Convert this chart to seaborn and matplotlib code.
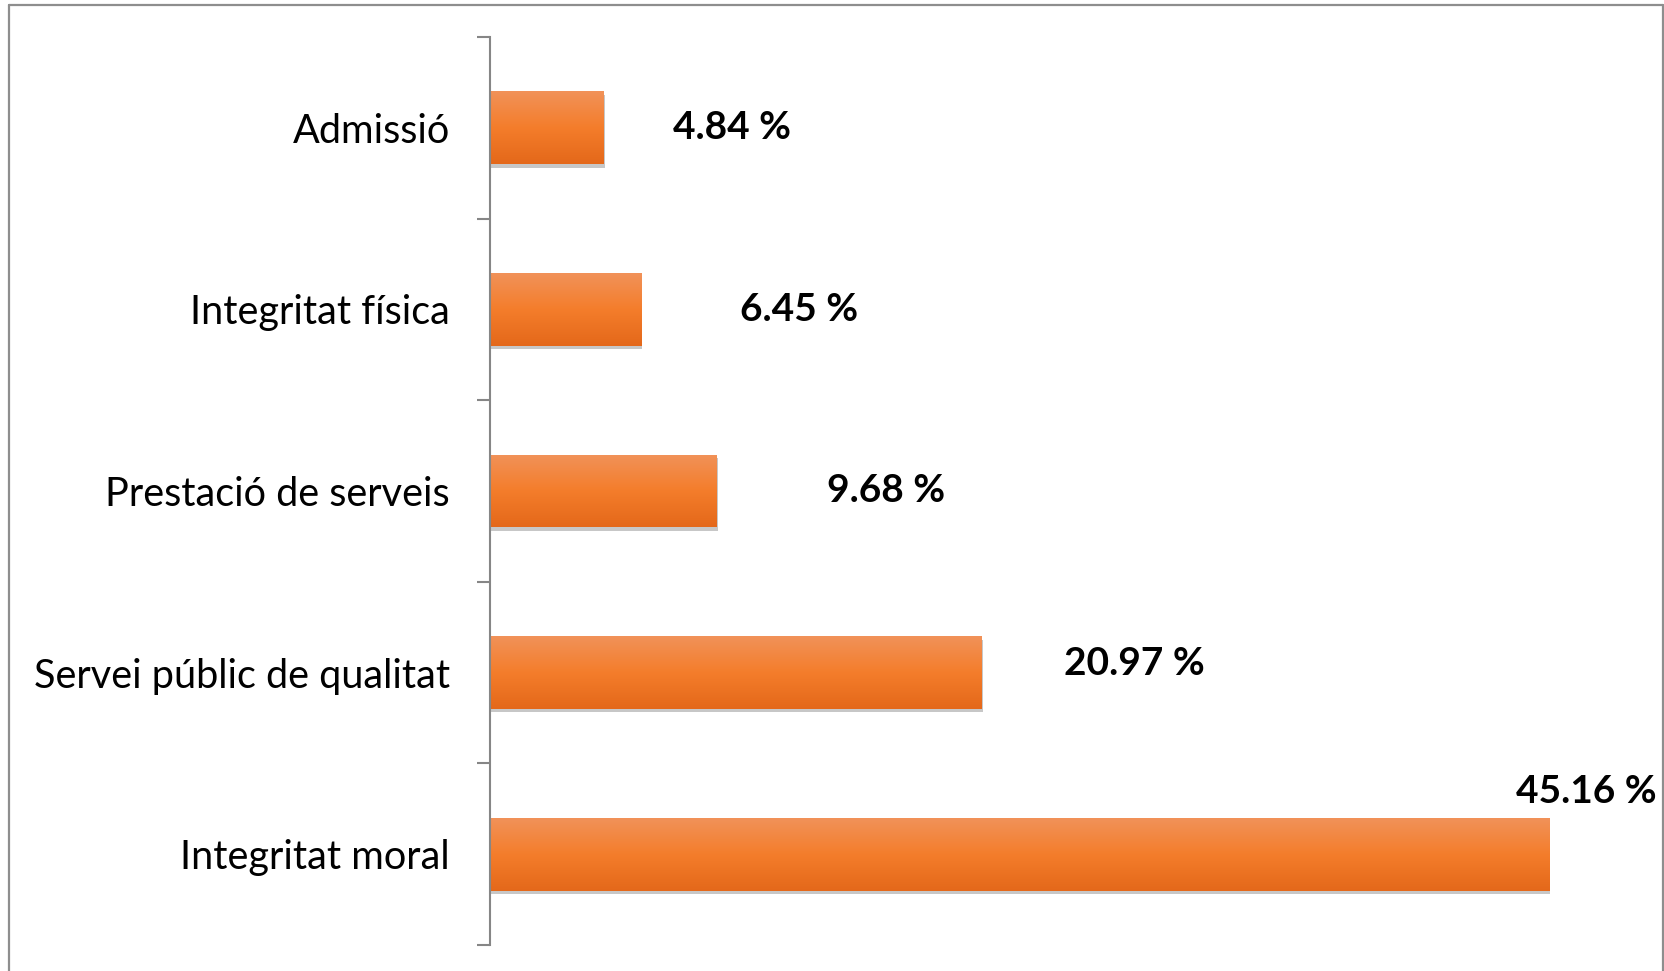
# %% Import packages

import numpy as np
import pandas as pd
import seaborn as sns
import matplotlib.pyplot as plt
import matplotlib.patheffects as pe
from matplotlib.colors import LinearSegmentedColormap
from matplotlib.lines import Line2D

# %% Data

categories = ['Admissió', 'Integritat física', 'Prestació de serveis',
              'Servei públic de qualitat', 'Integritat moral']
percentages = [4.84, 6.45, 9.68, 20.97, 45.16]
value_labels = ['4.84 %', '6.45 %', '9.68 %', '20.97 %', '45.16 %']

# label offsets from the bar end, in pixels (Excel-style placement)
label_dx = [70, 99, 110, 82, -33]
label_dy = [0, 0, 0, 9, 63]

# %% Figure aesthetics

sns.set_theme(style='white')
plt.rcParams['font.family'] = ['Lato', 'DejaVu Sans']

DPI = 100
fig = plt.figure(figsize=(16.65, 9.71), dpi=DPI)
ax = fig.add_axes([490 / 1665, 1 - 945 / 971, (1640 - 490) / 1665, (945 - 37) / 971])

df = pd.DataFrame({'category': categories, 'value': percentages})

# %% Bars

sns.barplot(data=df, x='value', y='category', orient='h', color='#F47D2B',
            width=0.4, ax=ax, saturation=1)

grad_cmap = LinearSegmentedColormap.from_list(
    'bar_grad', ['#F19259', '#F47D2B', '#E4681A'])
grad = np.linspace(0, 1, 256).reshape(-1, 1)

for patch in ax.patches:
    patch.set_edgecolor('none')
    patch.set_path_effects([pe.SimplePatchShadow(offset=(0.8, -2.5), shadow_rgbFace='#000000', alpha=0.22),
                            pe.Normal()])
    x0, y0 = patch.get_x(), patch.get_y()
    w, h = patch.get_width(), patch.get_height()
    im = ax.imshow(grad, extent=[x0, x0 + w, y0 + h, y0], aspect='auto',
                   cmap=grad_cmap, zorder=patch.get_zorder() + 0.1)
    im.set_clip_path(patch)

ax.set_xlim(0, (1640 - 490) / 23.45)
ax.set_ylim(len(categories) - 0.5, -0.5)
ax.set_aspect('auto')

# %% Labels

for i, (val, lab) in enumerate(zip(percentages, value_labels)):
    ax.annotate(lab, xy=(val, i), xytext=(label_dx[i] * 72 / DPI, label_dy[i] * 72 / DPI),
                textcoords='offset points', ha='left', va='center',
                fontsize=28, fontweight='bold', color='black')

# %% Axis styling

for side in ['top', 'right', 'bottom']:
    ax.spines[side].set_visible(False)
ax.spines['left'].set_color('#868686')
ax.spines['left'].set_linewidth(1.5)

ax.set_xlabel('')
ax.set_ylabel('')
ax.set_xticks([])
ax.tick_params(axis='y', which='major', left=False, length=0, pad=29,
               labelsize=28.5, labelcolor='black')
ax.set_yticks(np.arange(-0.5, len(categories), 1), minor=True)
ax.tick_params(axis='y', which='minor', left=True, length=9.5, width=1.5,
               color='#868686', direction='out')

# figure frame
frame_kw = dict(transform=fig.transFigure, color='#8E8E8E', linewidth=1.6)
fig.add_artist(Line2D([9 / 1665, 9 / 1665], [-0.01, 1 - 5 / 971], **frame_kw))
fig.add_artist(Line2D([9 / 1665, 1663 / 1665], [1 - 5 / 971, 1 - 5 / 971], **frame_kw))
fig.add_artist(Line2D([1663 / 1665, 1663 / 1665], [-0.01, 1 - 5 / 971], **frame_kw))

plt.savefig('out.png', dpi=DPI)
